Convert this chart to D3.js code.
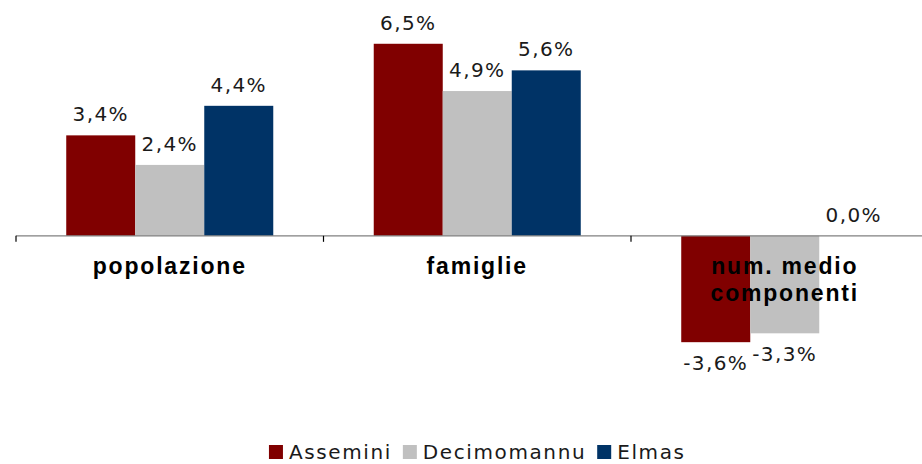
<!DOCTYPE html>
<html>
<head>
<meta charset="utf-8">
<script src="https://cdn.jsdelivr.net/npm/d3@7"></script>
<style>
  html, body { margin: 0; padding: 0; background: #ffffff; }
  svg { display: block; }
</style>
</head>
<body>
<div id="chart"></div>
<script>
// Variazione percentuale per comune
const categories = ["popolazione", "famiglie", "num. medio componenti"];
const categoryLines = [["popolazione"], ["famiglie"], ["num. medio", "componenti"]];
const seriesNames = ["Assemini", "Decimomannu", "Elmas"];
const seriesColors = ["#800000", "#C0C0C0", "#003366"];
const assemini = [3.4, 6.5, -3.6];
const decimomannu = [2.4, 4.9, -3.3];
const elmas = [4.4, 5.6, 0.0];
const seriesValues = [assemini, decimomannu, elmas];

const width = 922, height = 464;
const svg = d3.select("#chart").append("svg")
  .attr("width", width).attr("height", height);

// Scales
const x0 = d3.scaleBand().domain(categories).range([16, 938.5]).padding(0);
const x1 = d3.scaleBand().domain(seriesNames).range([0, x0.bandwidth()])
  .paddingInner(0).paddingOuter(0.728);
const y = d3.scaleLinear().domain([-4, 7]).range([354, 29]);

const itLocale = d3.formatLocale({ decimal: ",", thousands: ".", grouping: [3], currency: ["", "€"], minus: "-" });
const fmt = v => itLocale.format(".1f")(v) + "%";

const rows = categories.map((c, i) => ({
  category: c,
  values: seriesNames.map((s, j) => ({ series: s, color: seriesColors[j], value: seriesValues[j][i] }))
}));

// Bars
const groups = svg.append("g").selectAll("g").data(rows).join("g")
  .attr("transform", d => `translate(${x0(d.category)},0)`);

groups.selectAll("rect").data(d => d.values).join("rect")
  .attr("x", d => x1(d.series))
  .attr("width", x1.bandwidth())
  .attr("y", d => y(Math.max(0, d.value)))
  .attr("height", d => Math.abs(y(d.value) - y(0)))
  .attr("fill", d => d.color);

// Category axis on the zero line
const zeroY = y(0);
svg.append("line")
  .attr("x1", x0.range()[0]).attr("x2", x0.range()[1])
  .attr("y1", zeroY).attr("y2", zeroY)
  .attr("stroke", "#808080").attr("stroke-width", 1.2);

const tickPos = categories.map(c => x0(c)).concat([x0.range()[1]]);
svg.append("g").selectAll("line").data(tickPos).join("line")
  .attr("x1", d => d).attr("x2", d => d)
  .attr("y1", zeroY).attr("y2", zeroY + 6)
  .attr("stroke", "#000").attr("stroke-width", 1.2);

// Value labels
groups.selectAll("text.val").data(d => d.values).join("text")
  .attr("class", "val")
  .attr("x", d => x1(d.series) + x1.bandwidth() / 2)
  .attr("y", d => d.value < 0 ? y(d.value) + 28 : y(d.value) - 14)
  .attr("text-anchor", "middle")
  .style("font-family", "'DejaVu Sans', sans-serif")
  .style("font-size", "20px")
  .style("letter-spacing", "1.4px")
  .attr("fill", "#1a1a1a")
  .text(d => fmt(d.value));

// Category labels
const catLabels = svg.append("g").selectAll("text").data(categories).join("text")
  .attr("x", d => x0(d) + x0.bandwidth() / 2)
  .attr("y", 274)
  .attr("text-anchor", "middle")
  .style("font-family", "'Liberation Sans', Arial, sans-serif")
  .style("font-weight", "bold")
  .style("font-size", "23px")
  .style("letter-spacing", "1.8px")
  .attr("fill", "#000");

catLabels.each(function(d, i) {
  const t = d3.select(this);
  categoryLines[i].forEach((line, k) => {
    t.append("tspan")
      .attr("x", x0(d) + x0.bandwidth() / 2)
      .attr("dy", k === 0 ? 0 : 27)
      .text(line);
  });
});

// Legend
const legend = svg.append("g");
const items = legend.selectAll("g").data(seriesNames).join("g");
items.append("rect")
  .attr("width", 14).attr("height", 14)
  .attr("y", 445)
  .attr("fill", (d, i) => seriesColors[i]);
items.append("text")
  .attr("x", 20).attr("y", 459)
  .style("font-family", "'DejaVu Sans', sans-serif")
  .style("font-size", "20px")
  .style("letter-spacing", "1.6px")
  .attr("fill", "#1a1a1a")
  .text(d => d);

let offset = 0;
const gap = 11;
items.each(function() {
  const g = d3.select(this);
  const w = 20 + g.select("text").node().getComputedTextLength();
  g.attr("transform", `translate(${offset},0)`);
  offset += w + gap;
});
const legendWidth = offset - gap;
const center = (x0.range()[0] + x0.range()[1]) / 2;
legend.attr("transform", `translate(${center - legendWidth / 2},0)`);
</script>
</body>
</html>
